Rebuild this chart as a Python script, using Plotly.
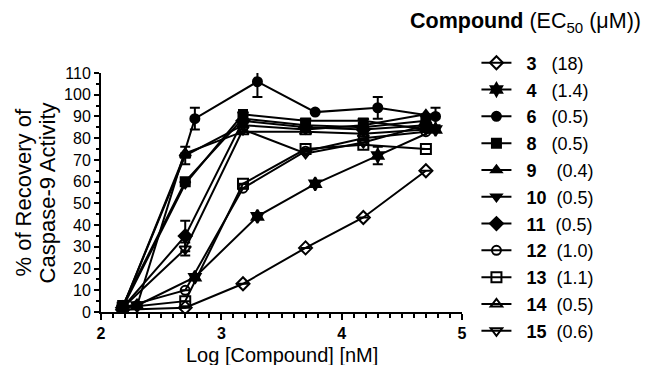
import plotly.graph_objects as go

# Concentration sets (log nM)
log_conc_a = [2.18, 2.70, 3.18, 3.70, 4.18, 4.70]
log_conc_b = [2.30, 2.78, 3.30, 3.78, 4.30, 4.78]

compounds = ["3", "4", "6", "8", "9", "10", "11", "12", "13", "14", "15"]
ec50_labels = ["(18)", "(1.4)", "(0.5)", "(0.5)", "&nbsp;(0.4)", "(0.5)", "(0.5)", "(1.0)", "(1.1)", "(0.5)", "(0.6)"]
y_title_lines = ["% of Recovery of", "Caspase-9 Activity"]

recovery_3 = [1, 2, 13, 29.5, 43.5, 65]
recovery_4 = [3, 16, 44, 59, 72, 84]
recovery_6 = [3, 89, 106, 92, 94, 90]
recovery_8 = [3, 60, 89, 86, 85, 88]
recovery_9 = [2, 72, 86, 84, 86, 91]
recovery_10 = [2, 59, 91, 88, 88, 84]
recovery_11 = [2, 35, 88, 85, 84, 86]
recovery_12 = [2, 10, 57, 74, 80, 83]
recovery_13 = [2, 5, 59, 75, 77, 75]
recovery_14 = [2, 73, 83, 83, 82, 84]
recovery_15 = [2, 29, 84, 73, 78, 86]

err_3 = [0, 0, 0, 0, 0, 0]
err_4 = [0, 0, 0, 0, 4, 0]
err_6 = [0, 5, 7, 0, 5, 4]
err_8 = [0, 0, 4, 0, 0, 0]
err_9 = [0, 4, 0, 0, 0, 0]
err_10 = [0, 0, 0, 0, 0, 0]
err_11 = [0, 7, 0, 0, 0, 0]
err_12 = [0, 0, 0, 0, 0, 0]
err_13 = [0, 0, 0, 0, 0, 0]
err_14 = [0, 0, 0, 0, 0, 0]
err_15 = [0, 3, 0, 0, 0, 0]

series = [
    ("3", log_conc_a, recovery_3, err_3, "diamond-open", 10),
    ("4", log_conc_b, recovery_4, err_4, "hexagram", 10),
    ("6", log_conc_b, recovery_6, err_6, "circle", 9),
    ("8", log_conc_a, recovery_8, err_8, "square", 9),
    ("9", log_conc_a, recovery_9, err_9, "triangle-up", 9),
    ("10", log_conc_a, recovery_10, err_10, "triangle-down", 9),
    ("11", log_conc_a, recovery_11, err_11, "diamond", 10),
    ("12", log_conc_a, recovery_12, err_12, "circle-open", 9),
    ("13", log_conc_a, recovery_13, err_13, "square-open", 10),
    ("14", log_conc_a, recovery_14, err_14, "triangle-up-open", 10),
    ("15", log_conc_a, recovery_15, err_15, "triangle-down-open", 10),
]

fig = go.Figure()
for i, (name, xs, ys, es, sym, sz) in enumerate(series):
    pad = "&nbsp;&nbsp;&nbsp;" if len(name) == 1 else "&nbsp;&nbsp;"
    fig.add_trace(go.Scatter(
        x=xs, y=ys, mode="lines+markers",
        name=f"&nbsp;&nbsp;<b>{name}</b>{pad}{ec50_labels[i]}",
        legendgroup=f"g{i}",
        line=dict(color="black", width=2),
        marker=dict(symbol=sym, size=sz, color="black",
                    line=dict(color="black", width=2)),
        error_y=dict(type="data", array=es, visible=True, color="black",
                     thickness=2, width=5),
    ))

# page body has an 8px margin; figure sized to fit the 654x365 window
fig.update_layout(
    width=646, height=357,
    margin=dict(l=93, r=192, t=65, b=53, autoexpand=False),
    paper_bgcolor="white", plot_bgcolor="white",
    font=dict(family="Liberation Sans, Arial, sans-serif", color="black", size=16),
    legend=dict(x=1.04, y=1.119, xanchor="left", yanchor="top",
                font=dict(size=18), tracegroupgap=0.4,
                itemwidth=30, bgcolor="rgba(0,0,0,0)", maxheight=340),
    annotations=[
        dict(text="<b>Compound</b> (EC<sub>50</sub> (\u03bcM))",
             xref="paper", yref="paper", x=0.85, y=1.212,
             xanchor="left", yanchor="middle", showarrow=False,
             font=dict(size=21.5)),
        dict(text=y_title_lines[0],
             xref="paper", yref="paper", x=-0.216, y=0.5,
             xanchor="center", yanchor="middle", showarrow=False,
             textangle=-90, font=dict(size=22)),
        dict(text=y_title_lines[1],
             xref="paper", yref="paper", x=-0.147, y=0.5,
             xanchor="center", yanchor="middle", showarrow=False,
             textangle=-90, font=dict(size=22)),
        dict(text="Log [Compound] [nM]",
             xref="paper", yref="paper", x=0.5, y=-0.18,
             xanchor="center", yanchor="middle", showarrow=False,
             font=dict(size=20)),
    ],
)
fig.update_xaxes(
    range=[2, 5], showgrid=False, zeroline=False,
    showline=True, linecolor="black", linewidth=2,
    ticks="outside", tickwidth=2, ticklen=6, tickcolor="black",
    tickmode="linear", tick0=2, dtick=1,
    tickfont=dict(size=16, weight="bold"),
    minor=dict(tickmode="linear", tick0=2, dtick=0.1, ticks="outside",
               ticklen=4, tickwidth=2, tickcolor="black", showgrid=False),
)
fig.update_yaxes(
    range=[0, 110], showgrid=False, zeroline=False,
    showline=True, linecolor="black", linewidth=2,
    ticks="outside", tickwidth=2, ticklen=5, tickcolor="black",
    tickmode="linear", tick0=0, dtick=10, tickfont=dict(size=16),
    minor=dict(tickmode="linear", tick0=0, dtick=5, ticks="outside",
               ticklen=3, tickwidth=2, tickcolor="black", showgrid=False),
)

fig.write_html("out.html")
